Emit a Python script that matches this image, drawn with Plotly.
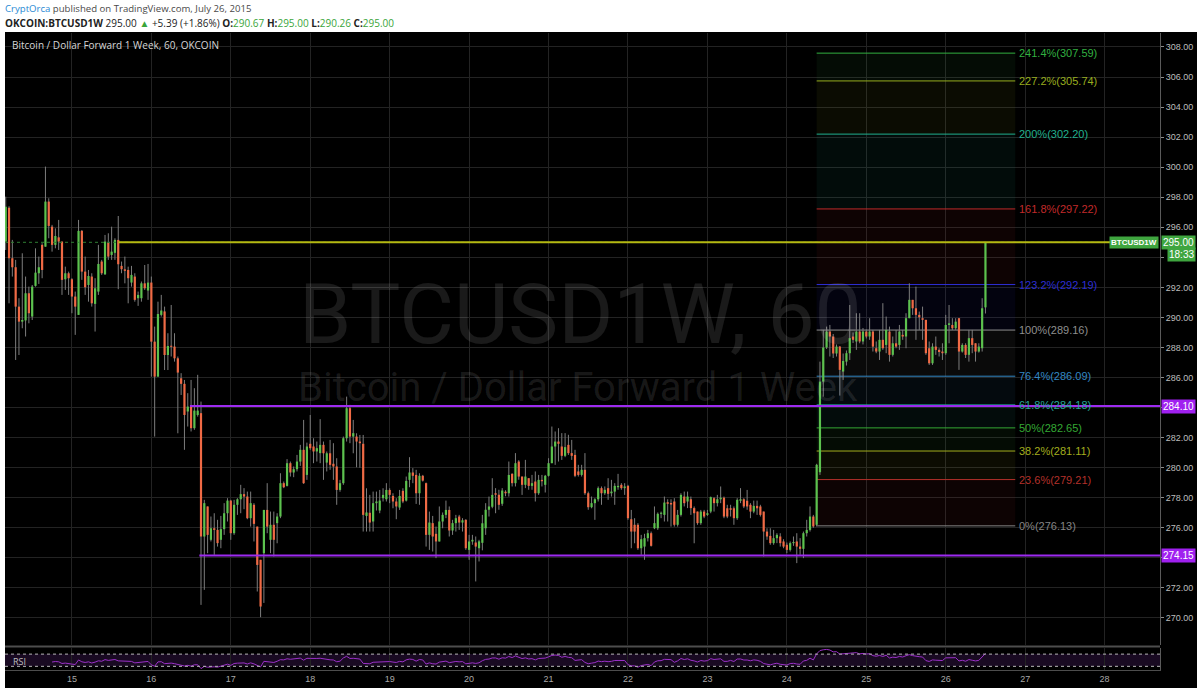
import numpy as np
import pandas as pd
import plotly.graph_objects as go

# ---------------- data (hourly OKCOIN BTCUSD1W candles) -------------
start_time = "2015-07-14 04:00"

open_ = [
    295.05, 297.30, 293.94, 293.34, 290.72, 289.72, 289.80, 291.61, 290.06, 292.10, 292.94, 294.83,
    294.71, 297.71, 296.04, 294.83, 295.33, 295.05, 292.54, 292.94, 292.54, 291.39, 290.17, 295.76,
    293.05, 292.16, 292.72, 290.90, 291.72, 293.72, 292.87, 294.98, 294.16, 294.30, 295.16, 293.43,
    293.20, 293.16, 292.32, 292.72, 291.28, 291.28, 292.27, 291.79, 292.32, 288.39, 286.06, 290.17,
    290.40, 287.50, 288.10, 288.06, 287.28, 285.95, 285.58, 283.74, 284.11, 282.63, 283.51, 283.63,
    275.42, 277.42, 275.20, 275.97, 275.86, 275.20, 275.91, 276.97, 277.81, 275.64, 277.53, 277.90,
    278.24, 278.08, 276.64, 277.53, 276.08, 273.87, 274.31, 277.19, 275.20, 276.20, 276.31, 276.75,
    278.97, 278.79, 280.30, 279.68, 279.90, 280.41, 281.19, 279.52, 281.59, 281.41, 281.08, 280.97,
    281.52, 280.34, 280.96, 280.26, 280.08, 278.52, 278.97, 281.96, 283.96, 282.07, 282.07, 281.74,
    281.59, 276.79, 277.00, 276.42, 277.64, 277.15, 277.97, 277.90, 278.52, 278.12, 277.75, 277.35,
    278.46, 277.81, 279.19, 279.68, 279.52, 278.30, 279.46, 278.97, 275.53, 276.31, 275.60, 275.09,
    276.42, 276.86, 277.19, 275.82, 276.31, 276.75, 276.35, 276.53, 274.53, 275.09, 275.02, 274.64,
    275.00, 275.97, 277.20, 277.40, 278.30, 278.20, 277.60, 278.40, 278.30, 279.59, 278.97, 280.41,
    279.41, 278.86, 279.30, 278.79, 279.08, 278.30, 279.19, 278.86, 279.46, 280.30, 281.41, 281.74,
    281.41, 280.79, 281.52, 280.97, 280.85, 279.75, 279.52, 279.86, 278.30, 277.37, 277.64, 277.90,
    278.64, 278.30, 278.64, 278.30, 278.41, 278.70, 278.86, 278.64, 278.79, 276.57, 276.20, 276.20,
    274.64, 274.75, 275.31, 275.64, 275.97, 275.97, 276.93, 276.86, 277.70, 277.65, 277.75, 276.20,
    276.86, 278.08, 277.75, 277.90, 277.31, 277.08, 276.31, 277.08, 276.86, 277.08, 277.97, 277.64,
    277.90, 278.00, 277.30, 277.30, 277.30, 276.64, 277.80, 277.90, 277.80, 277.53, 277.08, 277.46,
    277.42, 277.08, 275.75, 275.46, 274.98, 275.31, 275.42, 275.09, 274.87, 274.53, 274.98, 275.09,
    274.75, 274.60, 275.64, 275.86, 276.75, 276.20, 279.70, 285.73, 288.00, 289.06, 288.73, 287.60,
    288.06, 286.40, 287.06, 287.62, 288.73, 288.40, 289.06, 288.40, 289.06, 288.73, 289.06, 287.95,
    287.73, 288.51, 288.17, 289.06, 287.51, 288.28, 288.17, 288.84, 288.73, 289.95, 291.17, 290.61,
    290.17, 289.95, 289.84, 287.95, 286.95, 288.06, 287.84, 287.73, 287.62, 289.50, 289.50, 289.28,
    289.95, 287.73, 288.17, 287.51, 288.62, 288.28, 287.73, 287.95, 290.67,
]
high = [
    298.04, 297.40, 295.16, 293.83, 291.28, 294.27, 292.72, 292.05, 292.16, 294.60, 294.05, 294.94,
    300.04, 297.93, 296.16, 295.93, 296.49, 295.05, 293.38, 293.05, 292.61, 291.72, 296.49, 295.82,
    294.05, 293.16, 292.94, 292.61, 294.83, 293.83, 295.49, 295.60, 296.04, 295.27, 296.75, 293.72,
    294.05, 293.38, 293.43, 292.94, 291.72, 292.39, 293.49, 293.56, 292.72, 289.39, 291.05, 291.50,
    290.72, 288.95, 290.83, 288.95, 287.40, 286.29, 285.84, 284.96, 285.84, 285.29, 286.18, 284.40,
    277.86, 277.42, 276.75, 276.97, 276.53, 276.79, 277.64, 277.97, 277.86, 277.86, 277.97, 278.86,
    278.64, 278.41, 278.41, 277.64, 276.08, 273.87, 277.19, 278.97, 277.08, 277.08, 276.97, 279.63,
    279.08, 280.57, 280.41, 280.08, 280.85, 281.52, 283.18, 281.67, 283.51, 281.96, 281.74, 283.23,
    281.74, 281.08, 281.85, 281.63, 280.63, 279.19, 282.07, 284.73, 284.18, 283.18, 282.29, 282.18,
    282.18, 278.63, 278.19, 278.41, 278.41, 278.52, 278.63, 278.97, 278.63, 278.30, 277.97, 278.52,
    278.63, 279.41, 280.70, 279.97, 279.86, 279.63, 279.52, 279.01, 277.08, 276.79, 276.08, 277.42,
    277.02, 277.81, 277.42, 276.53, 276.86, 276.86, 276.64, 276.57, 275.53, 275.53, 275.42, 275.20,
    276.86, 277.64, 278.08, 279.30, 278.64, 278.53, 278.64, 278.50, 280.41, 279.63, 280.97, 280.50,
    279.41, 280.52, 279.30, 279.52, 279.75, 279.52, 279.52, 279.52, 280.63, 282.74, 282.41, 282.63,
    282.30, 282.30, 282.19, 281.85, 281.19, 280.19, 280.19, 280.97, 278.41, 278.08, 277.97, 278.75,
    278.75, 278.75, 279.30, 279.19, 278.97, 279.59, 278.97, 278.97, 278.86, 277.19, 276.64, 276.31,
    275.53, 275.60, 275.86, 275.75, 277.42, 277.02, 277.08, 278.08, 277.90, 277.90, 277.97, 277.19,
    278.30, 278.41, 278.41, 278.08, 277.42, 277.08, 277.19, 277.19, 277.19, 278.08, 278.04, 278.19,
    278.75, 278.08, 277.53, 277.53, 277.42, 277.97, 278.64, 277.97, 278.52, 277.64, 277.81, 277.81,
    277.53, 277.08, 275.97, 275.97, 275.86, 275.64, 275.64, 275.24, 275.02, 275.09, 275.42, 275.64,
    275.31, 275.75, 276.53, 277.42, 276.86, 280.26, 287.06, 289.17, 289.39, 289.50, 288.90, 288.20,
    288.10, 287.60, 287.80, 290.83, 289.00, 290.28, 290.28, 289.30, 289.20, 289.95, 289.17, 288.40,
    289.17, 290.95, 290.06, 289.39, 288.73, 289.17, 289.50, 289.17, 290.28, 292.27, 291.17, 292.05,
    290.39, 290.72, 289.84, 288.40, 288.28, 288.73, 287.95, 288.28, 290.17, 290.83, 289.95, 289.95,
    289.95, 288.28, 288.28, 289.17, 289.17, 288.28, 288.28, 291.28, 295.00,
]
low = [
    294.49, 290.94, 292.72, 287.17, 287.50, 289.28, 288.73, 289.61, 289.83, 292.05, 292.23, 292.61,
    294.71, 295.27, 294.38, 294.60, 294.49, 291.50, 291.83, 291.50, 290.28, 288.84, 290.17, 292.50,
    291.50, 291.05, 290.72, 289.06, 291.50, 292.83, 292.83, 293.83, 293.83, 293.83, 291.88, 292.94,
    292.27, 290.94, 292.05, 291.05, 290.77, 291.05, 291.83, 291.17, 286.06, 282.07, 286.06, 290.06,
    286.50, 286.50, 287.40, 287.06, 282.29, 284.84, 281.19, 282.74, 282.41, 282.52, 283.40, 270.87,
    271.87, 274.31, 275.09, 274.20, 274.75, 274.64, 275.53, 276.42, 275.20, 275.53, 276.86, 276.97,
    277.24, 276.57, 276.08, 275.09, 271.76, 270.05, 271.00, 275.64, 274.31, 274.09, 274.97, 276.64,
    278.64, 278.75, 279.41, 279.37, 279.75, 280.12, 278.92, 279.19, 281.19, 280.30, 280.41, 280.30,
    279.19, 279.75, 279.86, 279.19, 277.53, 278.40, 278.86, 281.74, 281.63, 280.96, 280.03, 280.00,
    275.75, 275.75, 275.75, 275.75, 277.15, 276.97, 277.75, 277.75, 277.64, 277.30, 276.57, 277.19,
    277.64, 277.75, 278.70, 278.97, 277.59, 277.53, 279.08, 274.75, 274.53, 274.42, 273.98, 275.09,
    275.97, 276.64, 275.42, 275.53, 275.75, 275.86, 275.75, 274.53, 273.87, 274.87, 272.43, 273.76,
    274.50, 275.53, 276.75, 277.30, 276.97, 277.20, 277.46, 278.10, 278.08, 278.75, 278.75, 279.20,
    278.19, 278.64, 278.53, 278.53, 277.75, 278.19, 278.75, 278.35, 279.41, 280.30, 280.19, 280.41,
    280.52, 280.70, 280.85, 280.52, 279.37, 279.41, 279.41, 278.19, 277.20, 277.30, 276.53, 277.75,
    277.53, 278.19, 277.86, 278.08, 277.53, 278.53, 278.53, 278.19, 276.53, 274.64, 274.97, 274.53,
    274.20, 273.87, 275.09, 274.75, 275.91, 275.86, 276.64, 276.42, 276.42, 276.08, 276.08, 276.08,
    276.75, 277.42, 277.31, 276.86, 274.97, 276.20, 276.20, 276.64, 276.79, 276.97, 277.08, 277.42,
    277.64, 276.64, 276.64, 276.75, 276.20, 276.53, 277.64, 277.31, 277.20, 276.64, 276.97, 276.86,
    276.75, 274.09, 275.20, 274.87, 274.87, 274.98, 274.75, 274.64, 274.31, 274.42, 274.80, 273.65,
    274.20, 273.98, 275.42, 275.75, 276.00, 276.09, 279.52, 284.73, 287.90, 287.40, 287.30, 287.40,
    284.80, 285.84, 286.80, 287.17, 288.30, 287.84, 288.28, 288.20, 288.60, 288.51, 287.73, 287.62,
    287.17, 287.84, 287.62, 287.06, 287.40, 287.95, 287.84, 288.51, 287.95, 289.95, 290.17, 288.51,
    289.17, 288.51, 287.51, 286.84, 286.84, 287.51, 287.40, 287.17, 287.51, 288.28, 289.17, 289.17,
    286.51, 287.66, 287.30, 287.06, 287.62, 287.06, 287.66, 287.73, 290.26,
]
close = [
    297.37, 293.94, 293.34, 290.72, 289.72, 289.83, 291.61, 290.28, 292.05, 292.98, 293.34, 293.16,
    297.71, 296.09, 294.83, 295.42, 295.05, 292.50, 292.94, 292.61, 291.39, 290.72, 295.76, 293.05,
    292.01, 292.76, 290.94, 291.94, 293.56, 292.94, 295.05, 294.05, 294.38, 295.16, 293.54, 293.21,
    293.10, 292.61, 292.83, 291.17, 291.50, 292.27, 291.94, 292.32, 288.39, 286.06, 290.23, 290.46,
    287.50, 288.10, 288.06, 287.28, 286.33, 285.58, 283.51, 284.07, 282.63, 283.80, 283.80, 275.42,
    277.64, 275.53, 275.97, 275.86, 274.98, 275.91, 276.97, 277.81, 275.64, 277.53, 277.90, 278.24,
    278.08, 276.64, 277.64, 276.26, 273.53, 270.76, 277.19, 276.08, 276.20, 275.20, 276.75, 278.97,
    278.70, 280.30, 279.68, 279.90, 280.41, 281.19, 278.97, 281.41, 281.30, 281.08, 281.30, 281.52,
    280.96, 280.96, 280.19, 280.08, 278.52, 278.97, 281.96, 283.96, 282.07, 282.30, 281.74, 281.63,
    276.86, 277.02, 276.35, 277.64, 277.75, 277.81, 278.19, 278.52, 278.19, 277.75, 277.42, 278.12,
    277.75, 279.12, 279.68, 279.46, 278.30, 279.46, 279.14, 275.53, 276.35, 275.42, 275.09, 276.42,
    276.86, 277.19, 275.82, 276.31, 276.64, 276.35, 276.50, 274.64, 275.09, 275.20, 274.75, 275.10,
    276.30, 277.20, 277.42, 278.19, 278.20, 277.53, 278.48, 278.30, 279.52, 278.97, 280.30, 279.41,
    278.86, 279.41, 278.79, 278.97, 278.30, 279.19, 279.10, 279.46, 280.30, 281.41, 281.74, 281.59,
    280.79, 281.37, 280.97, 280.79, 279.46, 279.52, 279.86, 278.30, 277.37, 277.64, 277.90, 278.64,
    278.30, 278.53, 278.26, 278.41, 278.79, 278.79, 278.64, 278.75, 276.64, 275.75, 275.75, 274.64,
    275.24, 275.31, 275.64, 274.80, 276.31, 276.93, 277.00, 277.68, 277.60, 277.55, 276.20, 276.86,
    278.19, 277.64, 278.08, 277.31, 276.97, 276.31, 277.08, 276.75, 276.97, 278.04, 277.64, 277.90,
    278.00, 276.75, 276.75, 277.20, 276.64, 277.86, 277.90, 277.42, 277.42, 277.08, 277.46, 277.30,
    276.86, 275.75, 275.42, 274.98, 275.31, 275.53, 274.98, 274.75, 274.53, 274.98, 275.05, 274.75,
    274.60, 275.64, 275.86, 276.75, 276.09, 280.19, 285.73, 288.00, 289.06, 288.73, 287.60, 288.06,
    286.51, 287.10, 287.62, 288.62, 288.51, 289.06, 288.40, 289.06, 288.73, 289.06, 288.06, 287.73,
    288.51, 287.95, 289.17, 287.51, 288.28, 288.06, 289.06, 288.73, 289.95, 291.17, 290.61, 290.17,
    290.01, 289.84, 287.62, 286.95, 288.06, 287.84, 287.70, 287.62, 289.50, 289.61, 289.28, 289.72,
    287.73, 288.17, 287.51, 288.62, 288.17, 287.73, 288.06, 290.61, 295.00,
]

# Fibonacci extension drawn on the chart
fib_pct = ["0%", "23.6%", "38.2%", "50%", "61.8%", "76.4%", "100%",
           "123.2%", "161.8%", "200%", "227.2%", "241.4%"]
fib_price = [276.13, 279.21, 281.11, 282.65, 284.18, 286.09, 289.16,
             292.19, 297.22, 302.20, 305.74, 307.59]
fib_color = ["#858585", "#b3302a", "#a3ad1e", "#34a834", "#26a69a", "#3387c4", "#8f8f8f",
             "#2d2dd2", "#c22a2a", "#22b08f", "#98ad1e", "#32b040"]
fib_start, fib_end = "2015-07-24 09:00", "2015-07-26 21:00"

# horizontal drawings
support_price = [284.10, 274.15]
support_start = ["2015-07-16 11:40", "2015-07-16 14:30"]
resist_price = 295.00
resist_start = "2015-07-15 14:00"
last_price = 295.00
countdown = "18:33"
symbol = "BTCUSD1W"

header_o, header_h, header_l, header_c = "290.67", "295.00", "290.26", "295.00"
header_chg = "+5.39 (+1.86%)"

price_ticks = [270, 272, 274, 276, 278, 280, 282, 284, 286, 288, 290,
               292, 294, 296, 298, 300, 302, 304, 306, 308]
hidden_ticks = [274, 284, 294]   # covered by the label boxes on the price scale

x_min, x_max = "2015-07-14 03:47", "2015-07-28 16:44"
line_end = "2015-07-28 01:40"
y_min, y_max = 268.2, 308.93

# ---------------- derived ----------------
times = pd.date_range(start_time, periods=len(close), freq="h")
o = np.array(open_); c = np.array(close); h = np.array(high); l = np.array(low)

wick_x, wick_y = [], []
for t, hi, lo in zip(times, h, l):
    wick_x += [t, t, None]
    wick_y += [hi, lo, None]

MIN_BODY = 0.07


def body_segments(mask):
    xs, ys = [], []
    for t, op, cl, m in zip(times, o, c, mask):
        if not m:
            continue
        top, bot = max(op, cl), min(op, cl)
        if top - bot < MIN_BODY:
            mid = (top + bot) / 2
            top, bot = mid + MIN_BODY / 2, mid - MIN_BODY / 2
        xs += [t, t, None]
        ys += [bot, top, None]
    return xs, ys


up = c >= o
gx, gy = body_segments(up)
rx, ry = body_segments(~up)

# RSI(14), Wilder smoothing
delta = np.diff(c, prepend=c[0])
gains = np.clip(delta, 0, None)
losses = np.clip(-delta, 0, None)
n = 14
rsi = np.full(len(c), np.nan)
ag, al = gains[1:n + 1].mean(), losses[1:n + 1].mean()
rsi[n] = 100 - 100 / (1 + ag / al)
for i in range(n + 1, len(c)):
    ag = (ag * (n - 1) + gains[i]) / n
    al = (al * (n - 1) + losses[i]) / n
    rsi[i] = 100 - 100 / (1 + ag / al)

# ---------------- figure ----------------
GREEN = "#5cc24e"
RED = "#f06a45"
WICK = "#7d7d7d"
GRID = "#232323"

fig = go.Figure()
fig.add_trace(go.Scatter(x=wick_x, y=wick_y, mode="lines", line=dict(color=WICK, width=1),
                         hoverinfo="skip", xaxis="x", yaxis="y"))
fig.add_trace(go.Scatter(x=gx, y=gy, mode="lines", line=dict(color=GREEN, width=2.2),
                         hoverinfo="skip", xaxis="x", yaxis="y"))
fig.add_trace(go.Scatter(x=rx, y=ry, mode="lines", line=dict(color=RED, width=2.2),
                         hoverinfo="skip", xaxis="x", yaxis="y"))
fig.add_trace(go.Scatter(x=times, y=rsi, mode="lines", line=dict(color="#9b30c8", width=1),
                         hoverinfo="skip", xaxis="x2", yaxis="y2"))

PLOT_L, PLOT_R, PLOT_T, PLOT_B = 5, 1160, 33, 670
PW, PH = PLOT_R - PLOT_L, PLOT_B - PLOT_T


def px_x(xp):
    return (xp - PLOT_L) / PW


def px_y(yp):
    return (PLOT_B - yp) / PH


shapes = []
# black chart canvas incl. axes area
shapes.append(dict(type="rect", xref="paper", yref="paper", x0=px_x(5), x1=px_x(1197),
                   y0=px_y(688), y1=px_y(32), fillcolor="#000000", line=dict(width=0), layer="below"))


def hexa(col, a):
    col = col.lstrip("#")
    r, g, b = int(col[0:2], 16), int(col[2:4], 16), int(col[4:6], 16)
    return f"rgba({r},{g},{b},{a})"


# fib bands and lines
for k in range(1, len(fib_price)):
    shapes.append(dict(type="rect", xref="x", yref="y", x0=fib_start, x1=fib_end,
                       y0=fib_price[k - 1], y1=fib_price[k], fillcolor=hexa(fib_color[k], 0.07),
                       line=dict(width=0), layer="between"))
for p, col in zip(fib_price, fib_color):
    shapes.append(dict(type="line", xref="x", yref="y", x0=fib_start, x1=fib_end, y0=p, y1=p,
                       line=dict(color=col, width=1), layer="between"))

# current price dotted line and yellow resistance
shapes.append(dict(type="line", xref="x", yref="y", x0=x_min, x1=line_end, y0=last_price, y1=last_price,
                   line=dict(color="#2f7d32", width=1, dash="dot"), layer="above"))
shapes.append(dict(type="line", xref="x", yref="y", x0=resist_start, x1=line_end, y0=resist_price,
                   y1=resist_price, line=dict(color="#b4b812", width=2), layer="above"))
# purple supports
for p, s in zip(support_price, support_start):
    shapes.append(dict(type="line", xref="x", yref="y", x0=s, x1=x_max, y0=p, y1=p,
                       line=dict(color="#9d2bf0", width=2), layer="above"))

# RSI band and bounds
shapes.append(dict(type="rect", xref="x2", yref="y2", x0=x_min, x1=x_max, y0=30, y1=70,
                   fillcolor="#190a22", line=dict(width=0), layer="below"))
for lvl in (30, 70):
    shapes.append(dict(type="line", xref="x2", yref="y2", x0=x_min, x1=x_max, y0=lvl, y1=lvl,
                       line=dict(color="#b8b8b8", width=1, dash="dot"), layer="above"))
# pane separator
shapes.append(dict(type="line", xref="paper", yref="paper", x0=0, x1=1, y0=px_y(646.5), y1=px_y(646.5),
                   line=dict(color="#4d4d4d", width=2)))

ann = []
# watermark
ann.append(dict(xref="paper", yref="paper", x=px_x(580), y=px_y(314), text=f"{symbol}, 60",
                showarrow=False, font=dict(family="Roboto", size=84, color="rgba(255,255,255,0.10)"),
                xanchor="center", yanchor="middle"))
ann.append(dict(xref="paper", yref="paper", x=px_x(578), y=px_y(387.5), text="Bitcoin / Dollar Forward 1 Week",
                showarrow=False, font=dict(family="Roboto", size=40, color="rgba(255,255,255,0.10)"),
                xanchor="center", yanchor="middle"))
# header
ann.append(dict(xref="paper", yref="paper", x=px_x(3), y=px_y(9), xanchor="left", yanchor="middle",
                showarrow=False,
                text="<span style='color:#2a8ad4'>CryptOrca</span> published on TradingView.com, July 26, 2015",
                font=dict(family="Open Sans", size=9.6, color="#4a4a4a")))
G = "#3aa53a"
hdr = (f"<b>OKCOIN:{symbol}</b> {last_price:.2f} <span style='color:{G}'>▲</span> {header_chg} "
       f"<b>O:</b><span style='color:{G}'>{header_o}</span> <b>H:</b><span style='color:{G}'>{header_h}</span> "
       f"<b>L:</b><span style='color:{G}'>{header_l}</span> <b>C:</b><span style='color:{G}'>{header_c}</span>")
ann.append(dict(xref="paper", yref="paper", x=px_x(3), y=px_y(22.5), xanchor="left", yanchor="middle",
                showarrow=False, text=hdr, font=dict(family="Open Sans", size=10, color="#222222")))
# chart title
ann.append(dict(xref="paper", yref="paper", x=px_x(10), y=px_y(45.5), xanchor="left", yanchor="middle",
                showarrow=False, text="Bitcoin / Dollar Forward 1 Week, 60, OKCOIN",
                font=dict(family="Open Sans", size=10, color="#d6d6d6")))
ann.append(dict(xref="paper", yref="paper", x=px_x(11), y=px_y(661), xanchor="left", yanchor="middle",
                showarrow=False, text="RSI", font=dict(family="Open Sans", size=9, color="#bdbdbd")))
# fib labels
for pct, p, col in zip(fib_pct, fib_price, fib_color):
    ann.append(dict(xref="x", yref="y", x=fib_end, y=p, xanchor="left", yanchor="middle", xshift=2,
                    showarrow=False, text=f"{pct}({p:.2f})",
                    font=dict(family="Liberation Sans", size=11, color=col)))
# price-axis label boxes
ann.append(dict(xref="paper", yref="y", x=1.0, y=last_price, xanchor="left", yanchor="middle", xshift=1,
                showarrow=False, text=f"{last_price:.2f}", bgcolor="#3fa53f", borderpad=1,
                font=dict(family="Liberation Sans", size=10, color="#ffffff")))
ann.append(dict(xref="paper", yref="y", x=1.0, y=last_price, xanchor="right", yanchor="middle", xshift=-1,
                showarrow=False, text=f"<b>{symbol}</b>", bgcolor="#3fa53f", borderpad=1,
                font=dict(family="Liberation Sans", size=8, color="#ffffff")))
ann.append(dict(xref="paper", yref="y", x=1.0, y=last_price, xanchor="left", yanchor="middle", xshift=7,
                yshift=-12.5, showarrow=False, text=countdown, bgcolor="#3fa53f", borderpad=1,
                font=dict(family="Liberation Sans", size=10, color="#ffffff")))
for p in support_price:
    ann.append(dict(xref="paper", yref="y", x=1.0, y=p, xanchor="left", yanchor="middle", xshift=1,
                    showarrow=False, text=f"{p:.2f}", bgcolor="#a020f0", borderpad=1,
                    font=dict(family="Liberation Sans", size=10, color="#ffffff")))

tick_text = ["" if v in hidden_ticks else f"{v:.2f}" for v in price_ticks]

fig.update_layout(
    width=1200, height=693,
    margin=dict(l=PLOT_L, r=1200 - PLOT_R, t=PLOT_T, b=693 - PLOT_B, autoexpand=False),
    paper_bgcolor="#ffffff", plot_bgcolor="#000000",
    showlegend=False,
    shapes=shapes, annotations=ann,
    xaxis=dict(type="date", range=[x_min, x_max], domain=[0, 1], anchor="y", showticklabels=False,
               showgrid=True, gridcolor=GRID, gridwidth=1, dtick=86400000, tick0="2015-07-15",
               zeroline=False, showline=False, ticks=""),
    xaxis2=dict(type="date", matches="x", domain=[0, 1], anchor="y2", showticklabels=True,
                tickformat="%-d", showgrid=True, gridcolor=GRID, dtick=86400000, tick0="2015-07-15",
                tickfont=dict(family="Liberation Sans", size=9, color="#a8a8a8"), ticks="",
                zeroline=False, showline=True, linecolor="#4d4d4d"),
    yaxis=dict(domain=[px_y(645), 1], range=[y_min, y_max], anchor="x", side="right",
               tickmode="array", tickvals=price_ticks, ticktext=tick_text,
               showgrid=True, gridcolor=GRID, zeroline=False,
               tickfont=dict(family="Liberation Sans", size=9, color="#bdbdbd"),
               ticks="outside", ticklen=3, tickcolor="#8a8a8a", showline=True, linecolor="#5a5a5a"),
    yaxis2=dict(domain=[0, px_y(648)], range=[18, 90], anchor="x2", side="right", showticklabels=False,
                showgrid=False, zeroline=False, showline=True, linecolor="#5a5a5a"),
)

fig.write_html("out.html", config={"displayModeBar": False},
               post_script="document.body.style.margin='0';document.body.style.padding='0';")
